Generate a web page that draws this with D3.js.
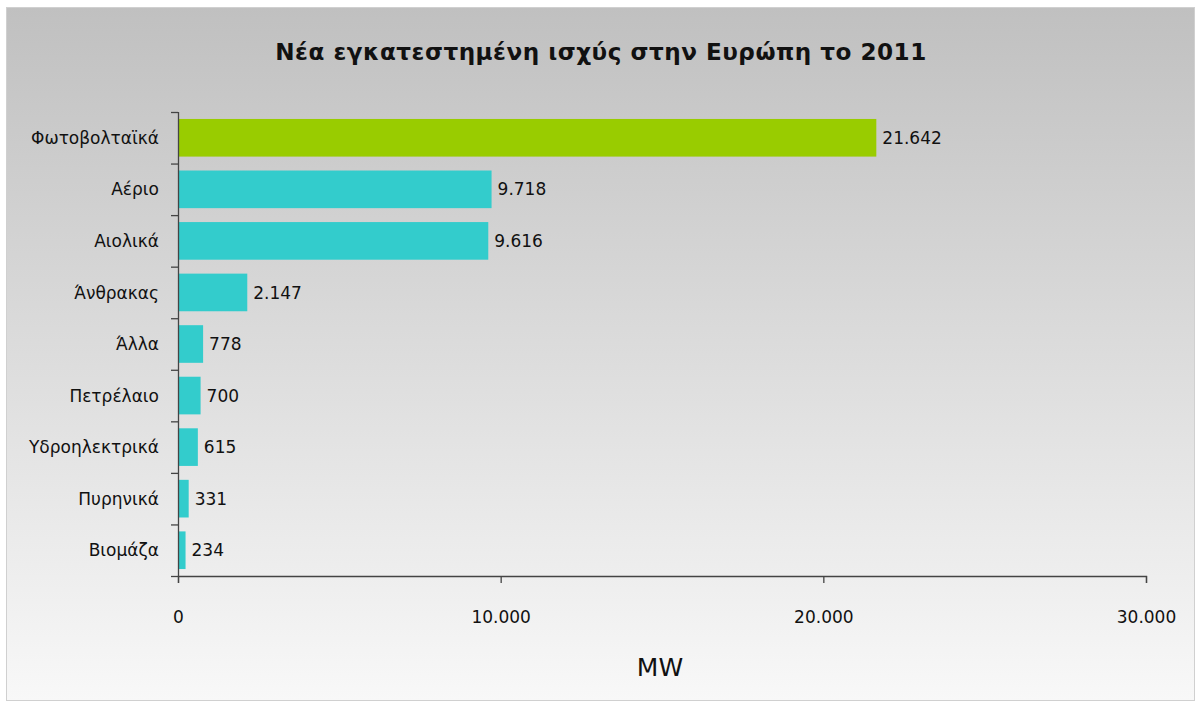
<!DOCTYPE html>
<html><head><meta charset="utf-8">
<script src="https://cdn.jsdelivr.net/npm/d3@7"></script>
<style>
html,body{margin:0;padding:0;background:#fff;}
svg{display:block;font-family:"DejaVu Sans",sans-serif;}
</style></head>
<body><svg id="c" width="1196" height="702"></svg>
<script>
const categories = ["Φωτοβολταϊκά","Αέριο","Αιολικά","Άνθρακας","Άλλα","Πετρέλαιο","Υδροηλεκτρικά","Πυρηνικά","Βιομάζα"];
const values = [21642, 9718, 9616, 2147, 778, 700, 615, 331, 234];
const colors = ["#99cc00","#33cccc","#33cccc","#33cccc","#33cccc","#33cccc","#33cccc","#33cccc","#33cccc"];
const xTicks = [0, 10000, 20000, 30000];
const titleText = "Νέα εγκατεστημένη ισχύς στην Ευρώπη το 2011";
const axisTitle = "MW";

(function(){
const loc = d3.formatLocale({decimal:",", thousands:".", grouping:[3], currency:["","€"]});
const fmt = loc.format(",d");
const fs = 17;

const svg = d3.select("#c");
const defs = svg.append("defs");
const g = defs.append("linearGradient").attr("id","bg").attr("x1",0).attr("y1",0).attr("x2",0).attr("y2",1);
g.append("stop").attr("offset","0%").attr("stop-color","#c0c0c0");
g.append("stop").attr("offset","100%").attr("stop-color","#f8f8f8");

svg.append("rect").attr("x",6.5).attr("y",7.5).attr("width",1188).attr("height",693)
  .attr("fill","url(#bg)").attr("stroke","#d0d0d0").attr("stroke-width",1);

const mLeft = 178, mRight = 1146, mTop = 112, mBottom = 576;
const x = d3.scaleLinear().domain([0, 30000]).range([mLeft, mRight]);
const y = d3.scaleBand().domain(categories).range([mTop, mBottom]).paddingInner(0.27).paddingOuter(0.135);

svg.append("g").selectAll("rect").data(categories).join("rect")
  .attr("x", x(0)).attr("y", d => y(d))
  .attr("width", (d,i) => x(values[i]) - x(0))
  .attr("height", y.bandwidth())
  .attr("fill", (d,i) => colors[i]);

svg.append("g").selectAll("text").data(categories).join("text")
  .attr("x", (d,i) => x(values[i]) + 6)
  .attr("y", d => y(d) + y.bandwidth()/2)
  .attr("dy","0.36em")
  .attr("font-size", fs).attr("fill","#111")
  .text((d,i) => fmt(values[i]));

const step = (mBottom - mTop) / categories.length;
const ya = svg.append("g");
ya.append("line").attr("x1", mLeft+0.5).attr("x2", mLeft+0.5).attr("y1", mTop).attr("y2", mBottom).attr("stroke","#444").attr("stroke-width",1.3);
ya.selectAll("line.t").data(d3.range(categories.length+1)).join("line").attr("class","t")
  .attr("x1", mLeft-7).attr("x2", mLeft).attr("y1", i => mTop + i*step + 0.5).attr("y2", i => mTop + i*step + 0.5)
  .attr("stroke","#444").attr("stroke-width",1.3);
ya.selectAll("text").data(categories).join("text")
  .attr("x", mLeft-19).attr("y", d => y(d) + y.bandwidth()/2).attr("dy","0.36em")
  .attr("text-anchor","end").attr("font-size",fs).attr("fill","#111").text(d => d);

const xa = svg.append("g").attr("transform", `translate(0,${mBottom})`)
  .call(d3.axisBottom(x).tickValues(xTicks).tickSize(7).tickPadding(28).tickFormat(d => fmt(d)));
xa.select(".domain").attr("stroke","#444").attr("stroke-width",1.3);
xa.selectAll(".tick line").attr("stroke","#444").attr("stroke-width",1.3);
xa.selectAll(".tick text").attr("font-size",fs).attr("fill","#111").attr("font-family","DejaVu Sans, sans-serif");

svg.append("text").attr("x", 660).attr("y", 676).attr("text-anchor","middle")
  .attr("font-size",25).attr("fill","#111").text(axisTitle);

const t = svg.append("text").attr("x", 601).attr("y", 60).attr("text-anchor","middle")
  .attr("font-size",22).attr("font-weight","bold").attr("fill","#111").attr("letter-spacing","0.5px").text(titleText);
const w = t.node().getComputedTextLength();
t.attr("font-size", 22 * 653 / w);
})();
</script></body></html>
